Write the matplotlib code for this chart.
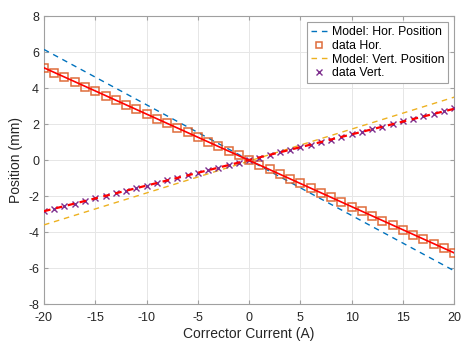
import numpy as np
import matplotlib
matplotlib.use("Agg")
import matplotlib.pyplot as plt

plt.rcParams["font.family"] = ["Liberation Sans", "DejaVu Sans"]
plt.rcParams["axes.unicode_minus"] = False

# measured corrector scan, 1 A steps
current = list(range(-20, 21))
hor_data = [5.10, 4.85, 4.60, 4.35, 4.09, 3.84, 3.58, 3.33, 3.07, 2.82,
            2.56, 2.31, 2.05, 1.80, 1.54, 1.29, 1.03, 0.78, 0.52, 0.27,
            0.00, -0.26, -0.51, -0.77, -1.03, -1.29, -1.55, -1.81, -2.07, -2.33,
            -2.59, -2.84, -3.10, -3.36, -3.62, -3.88, -4.14, -4.40, -4.66, -4.91,
            -5.17]
vert_data = [-2.83, -2.69, -2.55, -2.41, -2.26, -2.12, -1.98, -1.84, -1.70, -1.56,
             -1.41, -1.27, -1.13, -0.99, -0.85, -0.71, -0.56, -0.42, -0.28, -0.14,
             0.00, 0.14, 0.28, 0.43, 0.57, 0.71, 0.86, 1.00, 1.14, 1.29,
             1.43, 1.57, 1.72, 1.86, 2.00, 2.15, 2.29, 2.43, 2.58, 2.72,
             2.87]

# model predictions (straight lines)
model_current = [-20, 20]
hor_model = [6.15, -6.15]
vert_model = [-3.6, 3.5]

BLUE = "#0072BD"
ORANGE = "#D95319"
YELLOW = "#EDB120"
PURPLE = "#7E2F8E"

fig = plt.figure(figsize=(4.63, 3.44), dpi=100)
ax = fig.add_axes([0.095, 0.116, 0.886, 0.837])

ax.plot(model_current, hor_model, color=BLUE, lw=1.0, ls=(0, (4, 3.5)),
        label="Model: Hor. Position", zorder=3)
ax.plot(current, hor_data, ls="none", marker="s", ms=5.2, mfc="none",
        mec=ORANGE, mew=1.1, alpha=0.85, label="data Hor.", zorder=4)
ax.plot(model_current, vert_model, color=YELLOW, lw=1.0, ls=(0, (4, 3.5)),
        label="Model: Vert. Position", zorder=3)
ax.plot(current, vert_data, ls="none", marker="x", ms=4.8, mec=PURPLE,
        mew=1.0, label="data Vert.", zorder=4)

# linear fits through the data
x = np.array(current, dtype=float)
ph = np.polyfit(x, hor_data, 1)
pv = np.polyfit(x, vert_data, 1)
ax.plot(x, np.polyval(ph, x), color="red", lw=1.2, zorder=5)
ax.plot(x, np.polyval(pv, x), color="red", lw=1.6, ls=(0, (3, 2.5)), zorder=5)

ax.set_xlim(-20, 20)
ax.set_ylim(-8, 8)
ax.set_xticks(range(-20, 21, 5))
ax.set_yticks(range(-8, 9, 2))
ax.grid(True, color="#e6e6e6", lw=0.7)
ax.set_axisbelow(True)
for s in ax.spines.values():
    s.set_color("#a0a0a0")
    s.set_linewidth(0.8)
ax.tick_params(direction="in", length=3, color="#a0a0a0", labelsize=9,
               labelcolor="#262626", top=True, right=True)
ax.tick_params(axis="x", pad=6)
ax.set_xlabel("Corrector Current (A)", fontsize=10, color="#262626", labelpad=2)
ax.set_ylabel("Position (mm)", fontsize=10, color="#262626", labelpad=4)

leg = ax.legend(loc="upper right", fontsize=8.8, handlelength=1.3,
                handletextpad=0.4, borderpad=0.3, labelspacing=0.15,
                fancybox=False, framealpha=1, edgecolor="#a0a0a0",
                borderaxespad=0.5, markerscale=0.8)
leg.get_frame().set_linewidth(0.8)

fig.savefig("out.png", dpi=100)
